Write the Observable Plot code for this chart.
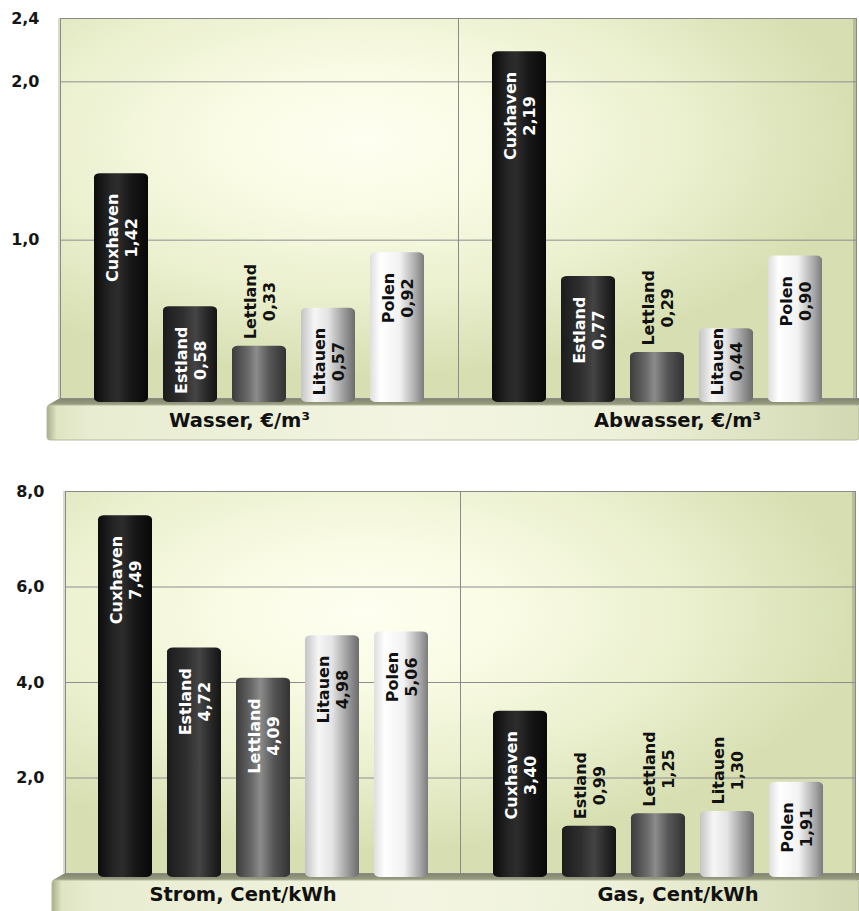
<!DOCTYPE html>
<html>
<head>
<meta charset="utf-8">
<script src="https://cdn.jsdelivr.net/npm/d3@7"></script>
<script src="https://cdn.jsdelivr.net/npm/@observablehq/plot@0.6"></script>
<style>
  html, body { margin: 0; padding: 0; background: #ffffff; }
  #chart svg { display: block; }
</style>
</head>
<body>
<div id="chart"></div>
<script>
// ---- data ----
const countries = ["Cuxhaven", "Estland", "Lettland", "Litauen", "Polen"];
const topGroups = ["Wasser, €/m³", "Abwasser, €/m³"];
const wasser = [1.42, 0.58, 0.33, 0.57, 0.92];
const abwasser = [2.19, 0.77, 0.29, 0.44, 0.90];
const bottomGroups = ["Strom, Cent/kWh", "Gas, Cent/kWh"];
const strom = [7.49, 4.72, 4.09, 4.98, 5.06];
const gas = [3.40, 0.99, 1.25, 1.30, 1.91];
const topTicks = [1.0, 2.0, 2.4];
const topMax = 2.4;
const bottomTicks = [2.0, 4.0, 6.0, 8.0];
const bottomMax = 8.0;

// ---- helpers ----
const W = 859;
const FONT = "'DejaVu Sans', Verdana, sans-serif";
const LABEL_SIZE = 16;
const fmt1 = v => v.toFixed(1).replace(".", ",");
const fmt2 = v => v.toFixed(2).replace(".", ",");
const darkBars = new Set(["Cuxhaven", "Estland", "Lettland"]);

const ctx = document.createElement("canvas").getContext("2d");
ctx.font = `bold ${LABEL_SIZE}px ` + FONT;
const tw = s => ctx.measureText(s).width;

const barGrad = {
  Cuxhaven: [[0, "#0c0c0c"], [0.3, "#262626"], [0.45, "#2c2c2c"], [0.7, "#161616"], [1, "#080808"]],
  Estland: [[0, "#1c1c1c"], [0.35, "#2e2e2e"], [0.6, "#444444"], [0.8, "#2a2a2a"], [1, "#141414"]],
  Lettland: [[0, "#3c3c3c"], [0.3, "#6a6a6a"], [0.45, "#8c8c8c"], [0.7, "#555555"], [1, "#333333"]],
  Litauen: [[0, "#c4c4c4"], [0.25, "#f6f6f6"], [0.5, "#e4e4e4"], [0.8, "#9a9a9a"], [1, "#6c6c6c"]],
  Polen: [[0, "#dedede"], [0.2, "#ffffff"], [0.55, "#f2f2f2"], [0.85, "#a8a8a8"], [1, "#7c7c7c"]]
};

function addDefs(svg) {
  const defs = d3.select(svg).insert("defs", ":first-child");
  for (const [name, stops] of Object.entries(barGrad)) {
    const g = defs.append("linearGradient").attr("id", "bar-" + name)
      .attr("x1", 0).attr("x2", 1).attr("y1", 0).attr("y2", 0);
    for (const [o, c] of stops) g.append("stop").attr("offset", o).attr("stop-color", c);
  }
  const wall = defs.append("radialGradient").attr("id", "wall")
    .attr("cx", 0.38).attr("cy", 0.32).attr("r", 0.62);
  [[0, "#fefff1"], [0.3, "#f9fbe4"], [0.65, "#ebf0cf"], [1, "#d7dfb2"]]
    .forEach(([o, c]) => wall.append("stop").attr("offset", o).attr("stop-color", c));
  const face = defs.append("linearGradient").attr("id", "floorface")
    .attr("x1", 0).attr("x2", 1).attr("y1", 0).attr("y2", 0);
  [[0, "#a9af8a"], [0.012, "#dfe4c2"], [0.05, "#e8ecd0"], [0.45, "#f3f5e2"], [0.7, "#eef1d9"], [1, "#d2d8b2"]]
    .forEach(([o, c]) => face.append("stop").attr("offset", o).attr("stop-color", c));
  const ftop = defs.append("linearGradient").attr("id", "floortop")
    .attr("x1", 0).attr("x2", 0).attr("y1", 0).attr("y2", 1);
  [[0, "#7f846a"], [1, "#9a9f84"]]
    .forEach(([o, c]) => ftop.append("stop").attr("offset", o).attr("stop-color", c));
}

function makePanel(cfg) {
  const {groups, series, ticks, ymax, height, marginTop, marginBottom, marginLeft, marginRight,
         labelDy, labelDx, paddingOuter, paddingInner, faceH} = cfg;
  const rows = [];
  groups.forEach((g, gi) => countries.forEach((c, ci) => rows.push({group: g, country: c, v: series[gi][ci]})));
  const k = (height - marginTop - marginBottom) / ymax; // px per unit
  const labels = rows.map(r => {
    const txt = r.country + "\n" + fmt2(r.v);
    const len = Math.max(tw(r.country), tw(fmt2(r.v)));
    const barPx = r.v * k;
    const inside = barPx >= len;
    let yc;
    if (inside) {
      yc = r.v - (20 + len / 2) / k;
      yc = Math.max(yc, (len / 2 + 3) / k);
    } else {
      yc = r.v + (7 + len / 2) / k;
    }
    const white = inside && darkBars.has(r.country);
    return {...r, txt, yc, white};
  });

  const textOpts = {fx: "group", x: "country", y: "yc", text: "txt", rotate: -90,
    fontSize: LABEL_SIZE, fontWeight: "bold", lineHeight: 1.2, textAnchor: "middle"};

  const svg = Plot.plot({
    width: W, height, marginTop, marginBottom, marginLeft, marginRight,
    style: {fontFamily: FONT, fontSize: "16px", fontWeight: "bold", color: "#161616", background: "transparent", overflow: "visible"},
    fx: {domain: groups, padding: 0, axis: null},
    x: {domain: countries, paddingInner, paddingOuter, align: 0.5, axis: null},
    y: {domain: [0, ymax], axis: null},
    marks: [
      Plot.gridY(ticks.filter(t => t < ymax), {stroke: "#8e8e8e", strokeOpacity: 1, strokeWidth: 1}),
      Plot.frame({stroke: "#8a8a8a", strokeWidth: 1}),
      Plot.axisY(ticks, {tickSize: 0, tickPadding: 21, tickFormat: fmt1, fontSize: 16, fontWeight: "bold", fill: "#161616"}),
      ...countries.map(c => Plot.barY(rows.filter(r => r.country === c), {
        fx: "group", x: "country", y: "v", fill: `url(#bar-${c})`, rx: 6, ry: 4, insetBottom: -4
      })),
      Plot.text(labels.filter(d => d.white), {...textOpts, fill: "#ffffff"}),
      Plot.text(labels.filter(d => !d.white), {...textOpts, fill: "#111111"}),
      Plot.text([groups[0]], {fx: d => d, text: d => d, frameAnchor: "bottom", dy: labelDy, dx: -labelDx,
        fontSize: 19.5, fontWeight: "bold", fill: "#111111"}),
      Plot.text([groups[1]], {fx: d => d, text: d => d, frameAnchor: "bottom", dy: labelDy, dx: labelDx,
        fontSize: 19.5, fontWeight: "bold", fill: "#111111"})
    ]
  });

  addDefs(svg);
  // wall + floor decoration, derived from the plot's own y scale
  const y0 = svg.scale("y").apply(0);
  const yTop = svg.scale("y").apply(ymax);
  const sel = d3.select(svg);
  const deco = sel.insert("g", "defs + *");
  deco.append("rect").attr("x", marginLeft).attr("y", yTop)
    .attr("width", W - marginLeft - marginRight).attr("height", y0 - yTop)
    .attr("fill", "url(#wall)");
  deco.append("rect").attr("x", marginLeft - 2).attr("y", yTop)
    .attr("width", 3).attr("height", y0 - yTop).attr("fill", "#d9dcc9");
  deco.append("rect").attr("x", W - marginRight - 3).attr("y", yTop)
    .attr("width", 3).attr("height", y0 - yTop).attr("fill", "#b7bd99");
  const topH = 7;
  deco.append("path")
    .attr("d", `M${marginLeft - 12},${y0 + topH} L${marginLeft},${y0} L${W},${y0} L${W},${y0 + topH} Z`)
    .attr("fill", "url(#floortop)");
  deco.append("rect").attr("x", marginLeft - 13).attr("y", y0 + topH)
    .attr("width", W - marginLeft + 13).attr("height", faceH).attr("rx", 3)
    .attr("fill", "url(#floorface)").attr("stroke", "#b4b99c").attr("stroke-width", 1);
  return svg;
}

const topPanel = makePanel({
  groups: topGroups, series: [wasser, abwasser], ticks: topTicks, ymax: topMax,
  height: 455, marginTop: 18, marginBottom: 57, marginLeft: 60, marginRight: 3,
  labelDy: 28, labelDx: 20, paddingInner: 0.22, paddingOuter: 0.48, faceH: 35
});
const bottomPanel = makePanel({
  groups: bottomGroups, series: [strom, gas], ticks: bottomTicks, ymax: bottomMax,
  height: 456, marginTop: 36, marginBottom: 38, marginLeft: 65, marginRight: 4,
  labelDy: 27, labelDx: 20, paddingInner: 0.22, paddingOuter: 0.47, faceH: 40
});
document.getElementById("chart").append(topPanel, bottomPanel);
</script>
</body>
</html>
